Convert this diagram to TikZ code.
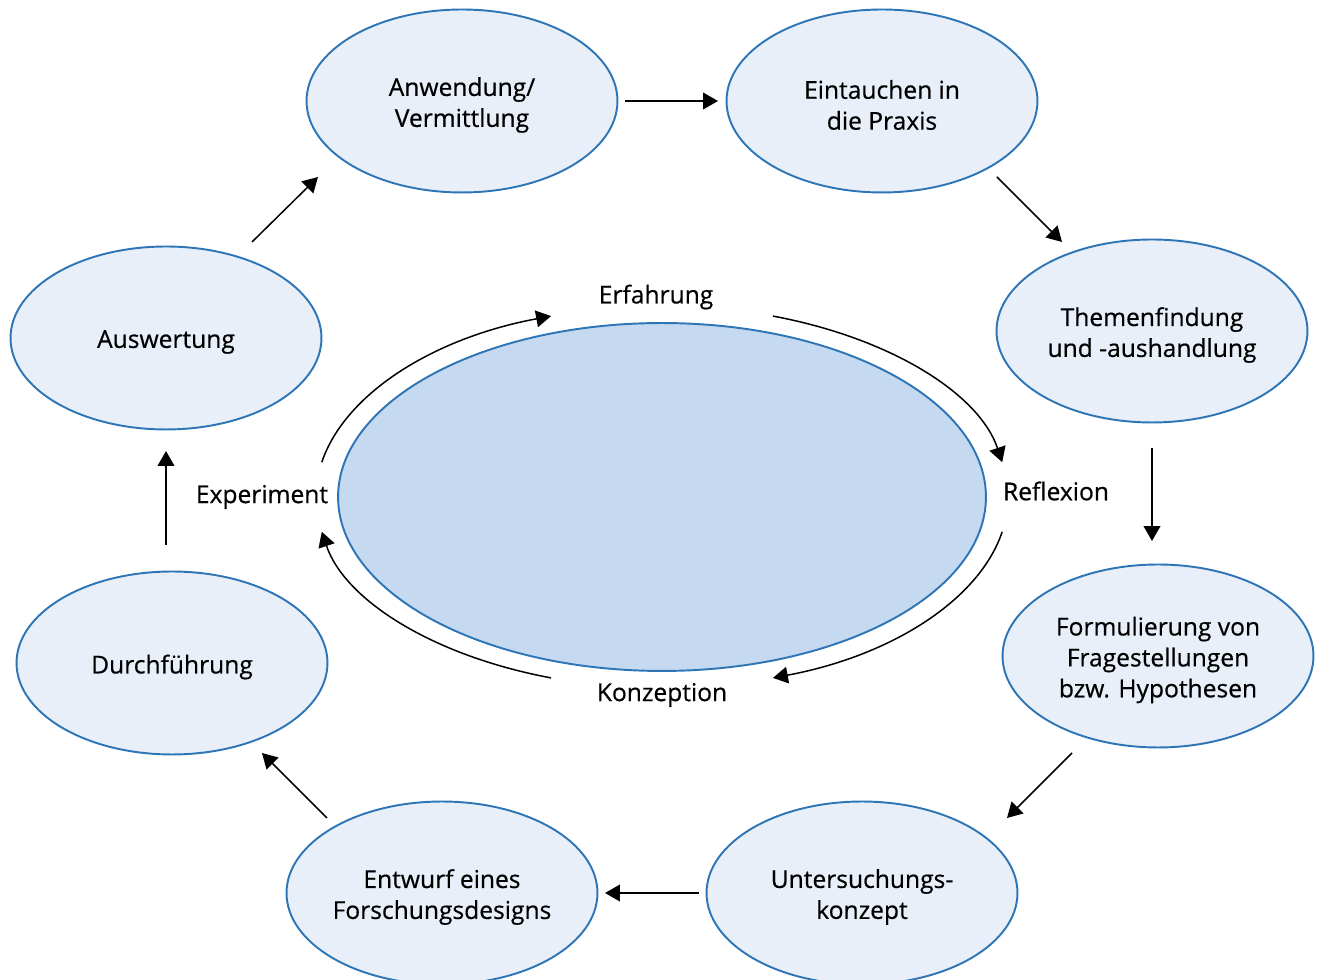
\documentclass[tikz,border=0pt]{standalone}
\usepackage{fontspec}
\setmainfont[FakeBold=0.5]{Open Sans}
\usepackage{xcolor}
\usepackage{tikz}
\usetikzlibrary{shapes.geometric}
\usetikzlibrary{arrows.meta}

\definecolor{ringfill}{RGB}{232,239,249}
\definecolor{corefill}{RGB}{197,217,240}
\definecolor{ringline}{RGB}{46,117,182}

\begin{document}
\begin{tikzpicture}[x=0.02cm,y=0.02cm,
          phase/.style={ellipse,draw=ringline,line width=1.1pt,fill=ringfill,
            minimum width=6.22cm,minimum height=3.66cm,inner sep=0pt},
          txt/.style={align=center,yshift=-0.08cm,font=\fontsize{14}{17.6}\selectfont},
          core/.style={ellipse,draw=ringline,line width=1.1pt,fill=corefill,
            minimum width=12.96cm,minimum height=6.96cm,inner sep=0pt},
          lbl/.style={font=\fontsize{14}{17.6}\selectfont},
          flow/.style={-{Triangle[length=8.5pt,width=9.5pt]},line width=0.85pt}]
  \useasboundingbox (0,0) rectangle (1322,980);

  % outer cycle
  \node[phase,label={[txt]center:{Anwendung/\\Vermittlung}}](anw) at (462,879){};
  \node[phase,label={[txt]center:{Eintauchen in\\die Praxis}}](ein) at (882,879){};
  \node[phase,label={[txt]center:{Themenfindung\\und -aushandlung}}](the) at (1152,649){};
  \node[phase,label={[txt]center:{Formulierung von\\Fragestellungen\\bzw. Hypothesen}}](frm) at (1158,324){};
  \node[phase,label={[txt]center:{Untersuchungs-\\konzept}}](unt) at (862,87){};
  \node[phase,label={[txt]center:{Entwurf eines\\Forschungsdesigns}}](ent) at (442,87){};
  \node[phase,label={[txt]center:Durchführung}](dur) at (172,317){};
  \node[phase,label={[txt]center:Auswertung}](aus) at (166,642){};

  % inner cycle
  \node[core](mid) at (662,483){};
  \node[lbl](erf) at (656,683){Erfahrung};
  \node[lbl](ref) at (1056,489){Reflexion};
  \node[lbl](kon) at (662,285){Konzeption};
  \node[lbl](exp) at (262,483){Experiment};

  % arrow ends between the phases
  \coordinate (s1) at (252,738); \coordinate (e1) at (318,803);
  \coordinate (s2) at (625,879); \coordinate (e2) at (718,879);
  \coordinate (s3) at (997,803); \coordinate (e3) at (1062,738);
  \coordinate (s4) at (1152,532); \coordinate (e4) at (1152,439);
  \coordinate (s5) at (1072,227); \coordinate (e5) at (1007,162);
  \coordinate (s6) at (699,87); \coordinate (e6) at (605,87);
  \coordinate (s7) at (327,162); \coordinate (e7) at (262,227);
  \coordinate (s8) at (166,435); \coordinate (e8) at (166,529);

  \draw[flow](s1)--(e1); \draw[flow](s2)--(e2);
  \draw[flow](s3)--(e3); \draw[flow](s4)--(e4);
  \draw[flow](s5)--(e5); \draw[flow](s6)--(e6);
  \draw[flow](s7)--(e7); \draw[flow](s8)--(e8);

  % arcs round the core
  \draw[flow](mid) ++(169.5:346 and 191) arc[start angle=169.5,end angle=108.7,x radius=346,y radius=191];
  \draw[flow](mid) ++(71.3:346 and 191) arc[start angle=71.3,end angle=10.5,x radius=346,y radius=191];
  \draw[flow](mid) ++(-10.5:346 and 191) arc[start angle=-10.5,end angle=-71.3,x radius=346,y radius=191];
  \draw[flow](mid) ++(-108.7:346 and 191) arc[start angle=-108.7,end angle=-169.5,x radius=346,y radius=191];
\end{tikzpicture}
\end{document}
